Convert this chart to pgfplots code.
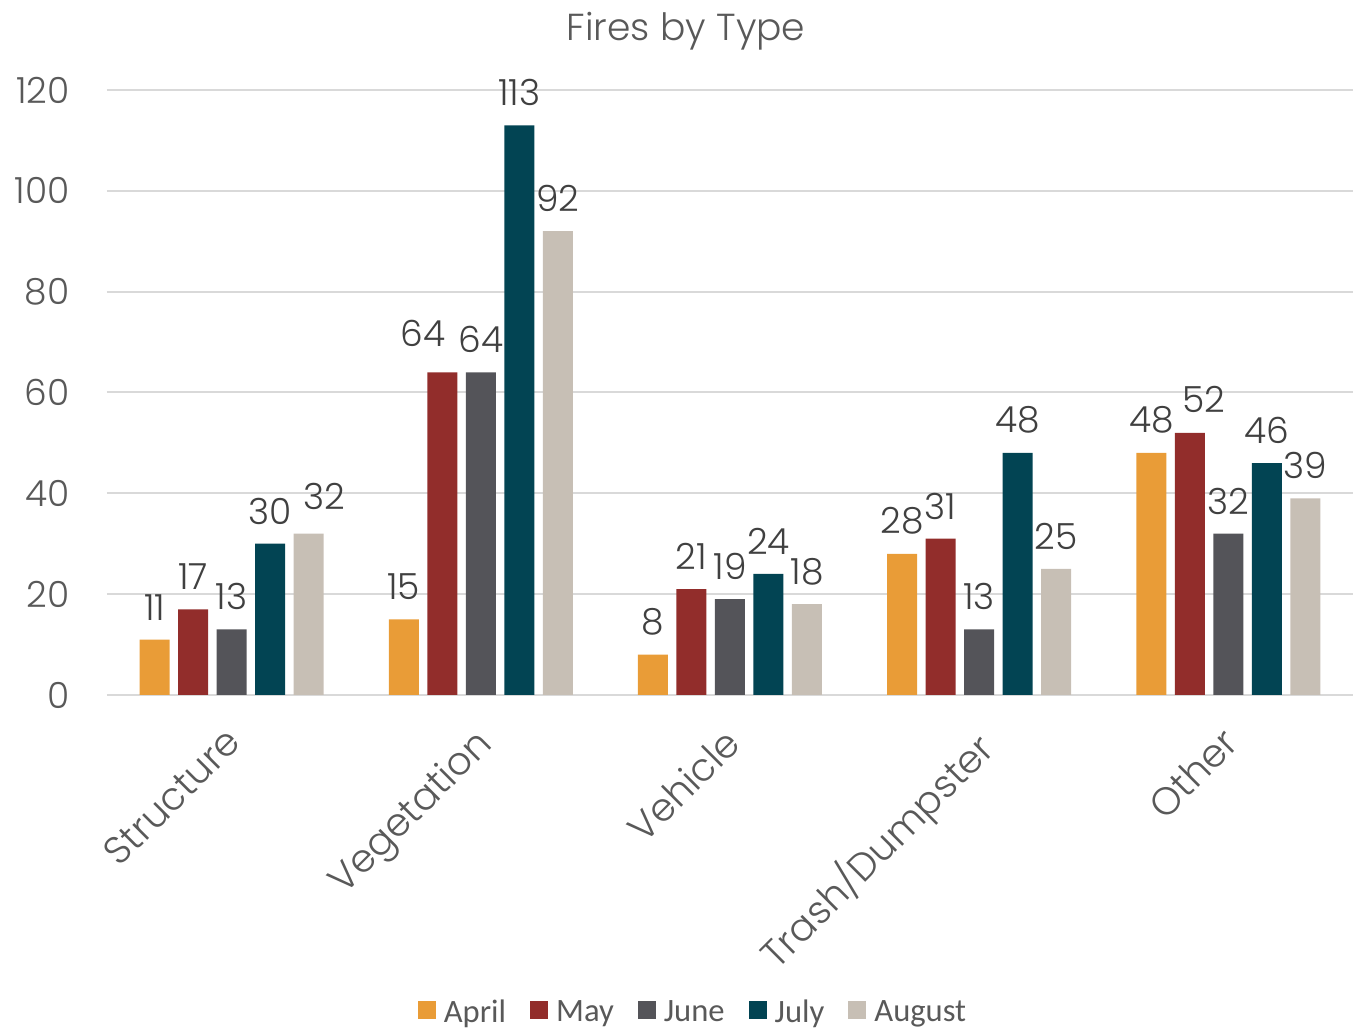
\documentclass[border=0pt]{standalone}
\usepackage{pgfplots}
\pgfplotsset{compat=1.18}
\usepackage{fontspec}
\setmainfont{Poppins}[UprightFont={* Light}]
\newfontfamily\legfont{Carlito}
\definecolor{cApr}{HTML}{E99C37}
\definecolor{cMay}{HTML}{922D2B}
\definecolor{cJun}{HTML}{545459}
\definecolor{cJul}{HTML}{024453}
\definecolor{cAug}{HTML}{C7BFB5}
\definecolor{gridc}{HTML}{D9D9D9}
\definecolor{tickc}{HTML}{595959}
\definecolor{labc}{HTML}{404040}
\begin{document}
\begin{tikzpicture}
\begin{axis}[
  /pgf/number format/assume math mode=true,
  scale only axis,
  width=623pt, height=302.5pt,
  ybar=4.25pt, bar width=15pt,
  xmin=-0.5, xmax=4.5, ymin=0, ymax=120,
  ytick={0,20,...,120},
  xtick={0,1,2,3,4},
  xticklabels={Structure,Vegetation,Vehicle,Trash/Dumpster,Other},
  axis line style={draw=none},
  major tick length=0pt,
  ymajorgrids, grid style={gridc, line width=1pt},
  yticklabel style={anchor=east, inner sep=0pt, xshift=-18.5pt, font=\fontsize{18}{20}\selectfont, text=tickc},
  xticklabel style={xshift=-4pt, yshift=-15pt, rotate=45, anchor=north east, inner sep=0pt, font=\fontsize{19.3}{21}\selectfont, text=tickc},
  title={Fires by Type},
  title style={at={(0.4647,1.062)}, anchor=base, font=\fontsize{18.8}{21}\selectfont, text=tickc, inner sep=0pt},
  legend columns=-1,
  legend style={at={(0.4695,-0.5256)}, anchor=center, draw=none, fill=none,
    font=\legfont\fontsize{16.3}{18}\selectfont, text=tickc,
    nodes={inner sep=0pt},
    /tikz/every odd column/.append style={column sep=4pt},
    /tikz/every even column/.append style={column sep=12pt}},
  legend image code/.code={\fill[#1] (0pt,-3.2pt) rectangle (9pt,5.8pt);},
  visualization depends on={\thisrow{dx}\as\dx},
  visualization depends on={\thisrow{dy}\as\dy},
  nodes near coords,
  every node near coord/.append style={font=\fontsize{18}{20}\selectfont, text=labc, anchor=south, inner sep=0pt, yshift=9.5pt},
  nodes near coords style={xshift=\dx pt, yshift=\dy pt},
]
\addplot[fill=cApr, draw=none] table {
x y dx dy
0 11 0 0
1 15 0 0
2 8 0 0
3 28 0 0
4 48 0 0
};
\addplot[fill=cMay, draw=none] table {
x y dx dy
0 17 0 0
1 64 -9.5 3
2 21 0 0
3 31 0 0
4 52 7 0.5
};
\addplot[fill=cJun, draw=none] table {
x y dx dy
0 13 0 0
1 64 0 0
2 19 0 0
3 13 0 0
4 32 0 0
};
\addplot[fill=cJul, draw=none] table {
x y dx dy
0 30 0 0
1 113 0 0
2 24 0 0
3 48 0 0
4 46 0 0
};
\addplot[fill=cAug, draw=none] table {
x y dx dy
0 32 8 2.5
1 92 0 0
2 18 0 0
3 25 0 0
4 39 0 0
};
\legend{April,May,June,July,August}
\end{axis}
\path[use as bounding box] (-53.5pt,-167pt) rectangle (624.5pt,347.5pt);
\end{tikzpicture}
\end{document}
